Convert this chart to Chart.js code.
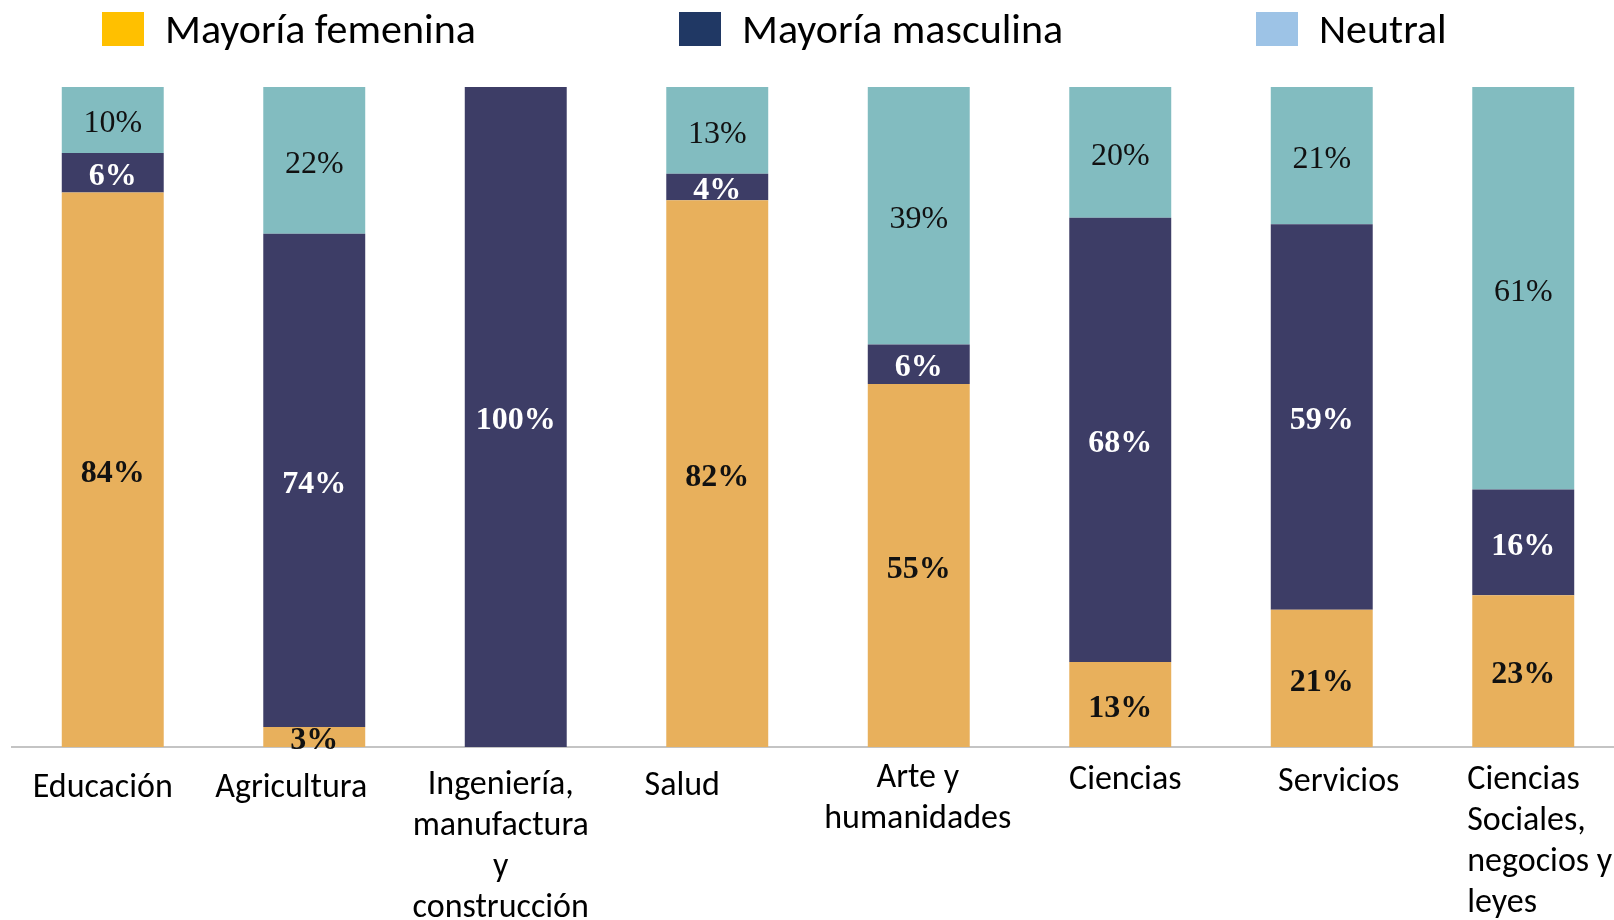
<!DOCTYPE html>
<html>
<head>
<meta charset="utf-8">
<script src="https://cdn.jsdelivr.net/npm/chart.js@4.4.1/dist/chart.umd.min.js"></script>
<style>
  html, body { margin: 0; padding: 0; background: #fff; overflow: hidden; }
  .chartBox { position: absolute; left: 0; top: 0; width: 1640px; height: 920px; }
</style>
</head>
<body>
<div class="chartBox">
  <canvas id="barchart"></canvas>
</div>
<script>
// categories (multi-line labels as in the original)
const categories = [
    ['Educación'],
    ['Agricultura'],
    ['Ingeniería,', 'manufactura', 'y', 'construcción'],
    ['Salud'],
    ['Arte y', 'humanidades'],
    ['Ciencias'],
    ['Servicios'],
    ['Ciencias', 'Sociales,', 'negocios y', 'leyes']
];
const seriesNames = ['Mayoría femenina', 'Mayoría masculina', 'Neutral'];
const femenina = [84, 3, 0, 82, 55, 13, 21, 23];
const masculina = [6, 74, 100, 4, 6, 68, 59, 16];
const neutral = [10, 22, 0, 13, 39, 20, 21, 61];

const barColors = ['#E8B05C', '#3D3D66', '#82BCC0'];
const legendColors = ['#FFC000', '#203864', '#9DC3E6'];
const labelFont = '"Carlito", "Lato", "Open Sans", sans-serif';
const valueFont = '"Liberation Serif", "DejaVu Serif", serif';

// the category text boxes in the original sit a bit off the bar centres
const labelShift = [-10, -23, -15, -35, -1, 5, 17, -56];
const labelDrop = [41, 41, 38, 39, 31, 33, 35, 33];
const labelAlign = ['center', 'center', 'center', 'center', 'center', 'center', 'center', 'left'];

// bars are a 100% stack, the printed numbers are rounded
const rows = [femenina, masculina, neutral];
const totals = categories.map((c, i) => femenina[i] + masculina[i] + neutral[i]);
const share = (arr) => arr.map((v, i) => v / totals[i] * 100);

const valueStyle = [
    { color: '#111', weight: 'bold' },
    { color: '#fff', weight: 'bold' },
    { color: '#111', weight: 'normal' }
];

const valueLabels = {
    id: 'valueLabels',
    afterDatasetsDraw(chart) {
        const ctx = chart.ctx;
        ctx.save();
        ctx.textAlign = 'center';
        ctx.textBaseline = 'middle';
        chart.data.datasets.forEach((ds, d) => {
            const meta = chart.getDatasetMeta(d);
            meta.data.forEach((bar, i) => {
                const v = rows[d][i];
                if (!v) return;
                const { x, y, base } = bar.getProps(['x', 'y', 'base'], true);
                ctx.font = valueStyle[d].weight + ' 32px ' + valueFont;
                ctx.fillStyle = valueStyle[d].color;
                ctx.fillText(v + '%', x, (y + base) / 2 + 4);
            });
        });
        ctx.restore();
    }
};

const categoryLabels = {
    id: 'categoryLabels',
    afterDraw(chart) {
        const ctx = chart.ctx;
        const xs = chart.scales.x;
        ctx.save();
        ctx.font = '34px ' + labelFont;
        ctx.fillStyle = '#000';
        ctx.textBaseline = 'middle';
        categories.forEach((lines, i) => {
            ctx.textAlign = labelAlign[i];
            const x = xs.getPixelForValue(i) + labelShift[i];
            lines.forEach((line, k) => {
                ctx.fillText(line, x, xs.top + labelDrop[i] + k * 41);
            });
        });
        ctx.restore();
    }
};

const topLegend = {
    id: 'topLegend',
    afterDraw(chart) {
        const ctx = chart.ctx;
        ctx.save();
        ctx.font = '42px ' + labelFont;
        ctx.textBaseline = 'middle';
        ctx.textAlign = 'left';
        seriesNames.forEach((name, i) => {
            const x = 102 + i * 577;
            ctx.fillStyle = legendColors[i];
            ctx.fillRect(x, 12, 42, 34);
            ctx.fillStyle = '#000';
            ctx.fillText(name, x + 63, 32);
        });
        ctx.restore();
    }
};

new Chart(document.getElementById('barchart').getContext('2d'), {
    type: 'bar',
    data: {
        labels: categories,
        datasets: seriesNames.map((name, d) => ({
            label: name,
            data: share(rows[d]),
            backgroundColor: barColors[d],
            barPercentage: 0.506,
            categoryPercentage: 1
        }))
    },
    options: {
        responsive: true,
        maintainAspectRatio: false,
        animation: false,
        layout: { padding: { left: 12, right: 16, top: 87, bottom: 173 } },
        plugins: {
            legend: { display: false },
            tooltip: { enabled: false }
        },
        scales: {
            x: {
                stacked: true,
                grid: { display: false, drawTicks: false },
                border: { color: '#C4C4C4', width: 2 },
                ticks: { display: false }
            },
            y: {
                stacked: true,
                display: false,
                min: 0,
                max: 100
            }
        }
    },
    plugins: [valueLabels, categoryLabels, topLegend]
});
</script>
</body>
</html>
